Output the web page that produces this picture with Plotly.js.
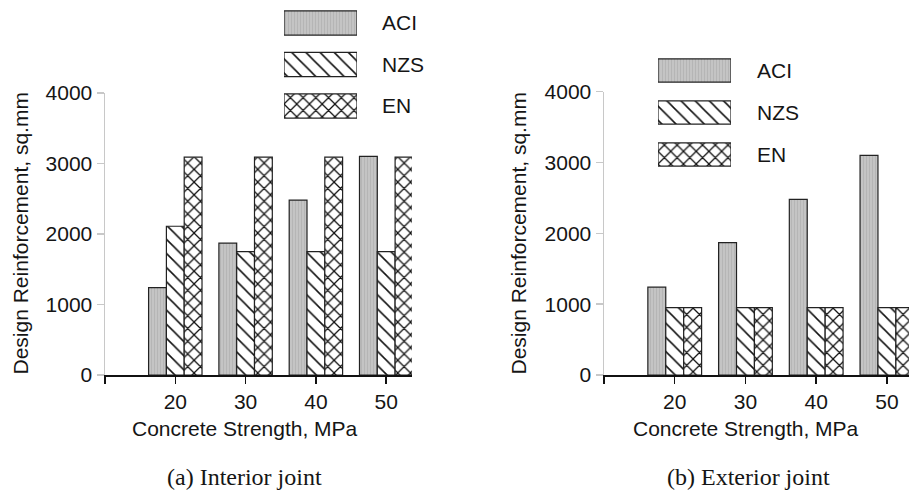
<!DOCTYPE html>
<html>
<head>
<meta charset="utf-8">
<script src="https://cdn.plot.ly/plotly-3.0.1.min.js"></script>
<style>html,body{margin:0;padding:0;background:#fff;}#chart{width:909px;height:492px;}</style>
</head>
<body>
<div id="chart"></div>
<script>
// ---- data ----
const strengths = [20, 30, 40, 50];
const seriesNames = ['ACI', 'NZS', 'EN'];
const interiorACI = [1240, 1870, 2480, 3100];
const interiorNZS = [2110, 1750, 1750, 1750];
const interiorEN  = [3090, 3090, 3090, 3090];
const exteriorACI = [1240, 1870, 2480, 3100];
const exteriorNZS = [950, 950, 950, 950];
const exteriorEN  = [950, 950, 950, 950];
const yTicks = [0, 1000, 2000, 3000, 4000];
const xTitle = 'Concrete Strength, MPa';
const yTitle = 'Design Reinforcement, sq.mm';
const captions = ['(a) Interior joint', '(b) Exterior joint'];

// ---- styles ----
const W = 909, H = 492;
const SANS = "'Liberation Sans', Arial, sans-serif";
const SERIF = "'Liberation Serif', 'Times New Roman', serif";
const TXT = '#151515';
const FS = 21;
const patterns = {
  ACI: {shape: '|', bgcolor: '#c4c4c4', fgcolor: '#b5b5b5', size: 3, solidity: 0.35, fillmode: 'replace'},
  NZS: {shape: '\\', bgcolor: '#ffffff', fgcolor: '#111111', size: 10, solidity: 0.155, fillmode: 'replace'},
  EN:  {shape: 'x', bgcolor: '#ffffff', fgcolor: '#111111', size: 9, solidity: 0.26, fillmode: 'replace'}
};
const outline = {color: '#222', width: 1.2};

function px(x) { return x / W; }
function py(y) { return (H - y) / H; }

const panels = [
  {vals: [interiorACI, interiorNZS, interiorEN], xa: 'x', ya: 'y'},
  {vals: [exteriorACI, exteriorNZS, exteriorEN], xa: 'x2', ya: 'y2'}
];

const traces = [];
panels.forEach(p => {
  seriesNames.forEach((name, i) => {
    traces.push({
      type: 'bar', name: name, x: strengths, y: p.vals[i],
      xaxis: p.xa, yaxis: p.ya, showlegend: false,
      marker: {color: patterns[name].bgcolor, pattern: patterns[name], line: outline},
      hoverinfo: 'x+y+name'
    });
  });
});

// legend swatches: one horizontal bar per series, on hidden axes, sharing one offset group
[['x3', 'y3', 0.58], ['x4', 'y4', 0.55]].forEach(([xa, ya, w]) => {
  seriesNames.forEach(name => {
    traces.push({
      type: 'bar', orientation: 'h', name: name, x: [1], y: [name],
      xaxis: xa, yaxis: ya, width: w, offsetgroup: 'legend-' + xa,
      showlegend: false, hoverinfo: 'name',
      marker: {color: patterns[name].bgcolor, pattern: patterns[name], line: outline}
    });
  });
});

const xTickVals = [strengths[0] - (strengths[1] - strengths[0])].concat(strengths);
const xTickText = [''].concat(strengths.map(String));

function xAxis(domain, range, anchor) {
  return {
    domain: domain, range: range, anchor: anchor, type: 'linear',
    showline: true, linecolor: '#111', linewidth: 1.5,
    ticks: 'outside', ticklen: 7, tickwidth: 1.5, tickcolor: '#111',
    tickvals: xTickVals, ticktext: xTickText,
    showgrid: false, zeroline: false,
    tickfont: {family: SANS, size: FS, color: TXT}
  };
}
function yAxis(domain, anchor) {
  return {
    domain: domain, range: [0, 4000], anchor: anchor,
    showline: true, linecolor: '#c8c8c8', linewidth: 1.5,
    ticks: 'outside', ticklen: 7, tickwidth: 1.5, tickcolor: '#c8c8c8',
    tickvals: yTicks, ticktext: yTicks.map(String),
    showgrid: false, zeroline: false,
    tickfont: {family: SANS, size: FS, color: TXT}
  };
}
function hidden(domain, anchor, extra) {
  return Object.assign({domain: domain, anchor: anchor, visible: false, fixedrange: true}, extra);
}

const annotations = [];
// axis titles
[[19.5, 234], [518, 233.5]].forEach(([x, y]) => annotations.push({
  xref: 'paper', yref: 'paper', x: px(x), y: py(y), text: yTitle, textangle: -90,
  showarrow: false, xanchor: 'center', yanchor: 'middle', font: {family: SANS, size: FS, color: TXT}
}));
[[245, 428], [746, 428]].forEach(([x, y]) => annotations.push({
  xref: 'paper', yref: 'paper', x: px(x), y: py(y), text: xTitle,
  showarrow: false, xanchor: 'center', yanchor: 'middle', font: {family: SANS, size: FS, color: TXT}
}));
// captions
[[244, 477], [748, 477]].forEach(([x, y], i) => annotations.push({
  xref: 'paper', yref: 'paper', x: px(x), y: py(y), text: captions[i],
  showarrow: false, xanchor: 'center', yanchor: 'middle', font: {family: SERIF, size: 24, color: TXT}
}));
// legend labels
[[380, 'y3'], [755, 'y4']].forEach(([x, ya]) => seriesNames.forEach(n => annotations.push({
  xref: 'paper', yref: ya, x: px(x), y: n, text: n,
  showarrow: false, xanchor: 'left', yanchor: 'middle', font: {family: SANS, size: FS, color: TXT}
})));

const layout = {
  width: W, height: H,
  margin: {l: 0, r: 0, t: 0, b: 0, pad: 0},
  paper_bgcolor: '#fff', plot_bgcolor: 'rgba(0,0,0,0)',
  barmode: 'group', bargap: 0.24, bargroupgap: 0,
  showlegend: false,
  xaxis: xAxis([px(105), px(412)], [10, 53.67], 'y'),
  yaxis: yAxis([py(375), py(93)], 'x'),
  xaxis2: xAxis([px(604), 1], [10, 53.12], 'y2'),
  yaxis2: yAxis([py(375), py(91.7)], 'x2'),
  xaxis3: hidden([px(284), px(357)], 'y3', {range: [0, 1]}),
  yaxis3: hidden([py(126.75), py(2.25)], 'x3', {type: 'category', categoryarray: seriesNames, range: [2.5, -0.5]}),
  xaxis4: hidden([px(658), px(731)], 'y4', {range: [0, 1]}),
  yaxis4: hidden([py(175.5), py(49.5)], 'x4', {type: 'category', categoryarray: seriesNames, range: [2.5, -0.5]}),
  annotations: annotations
};

Plotly.newPlot('chart', traces, layout, {displayModeBar: false, staticPlot: true});
</script>
</body>
</html>
